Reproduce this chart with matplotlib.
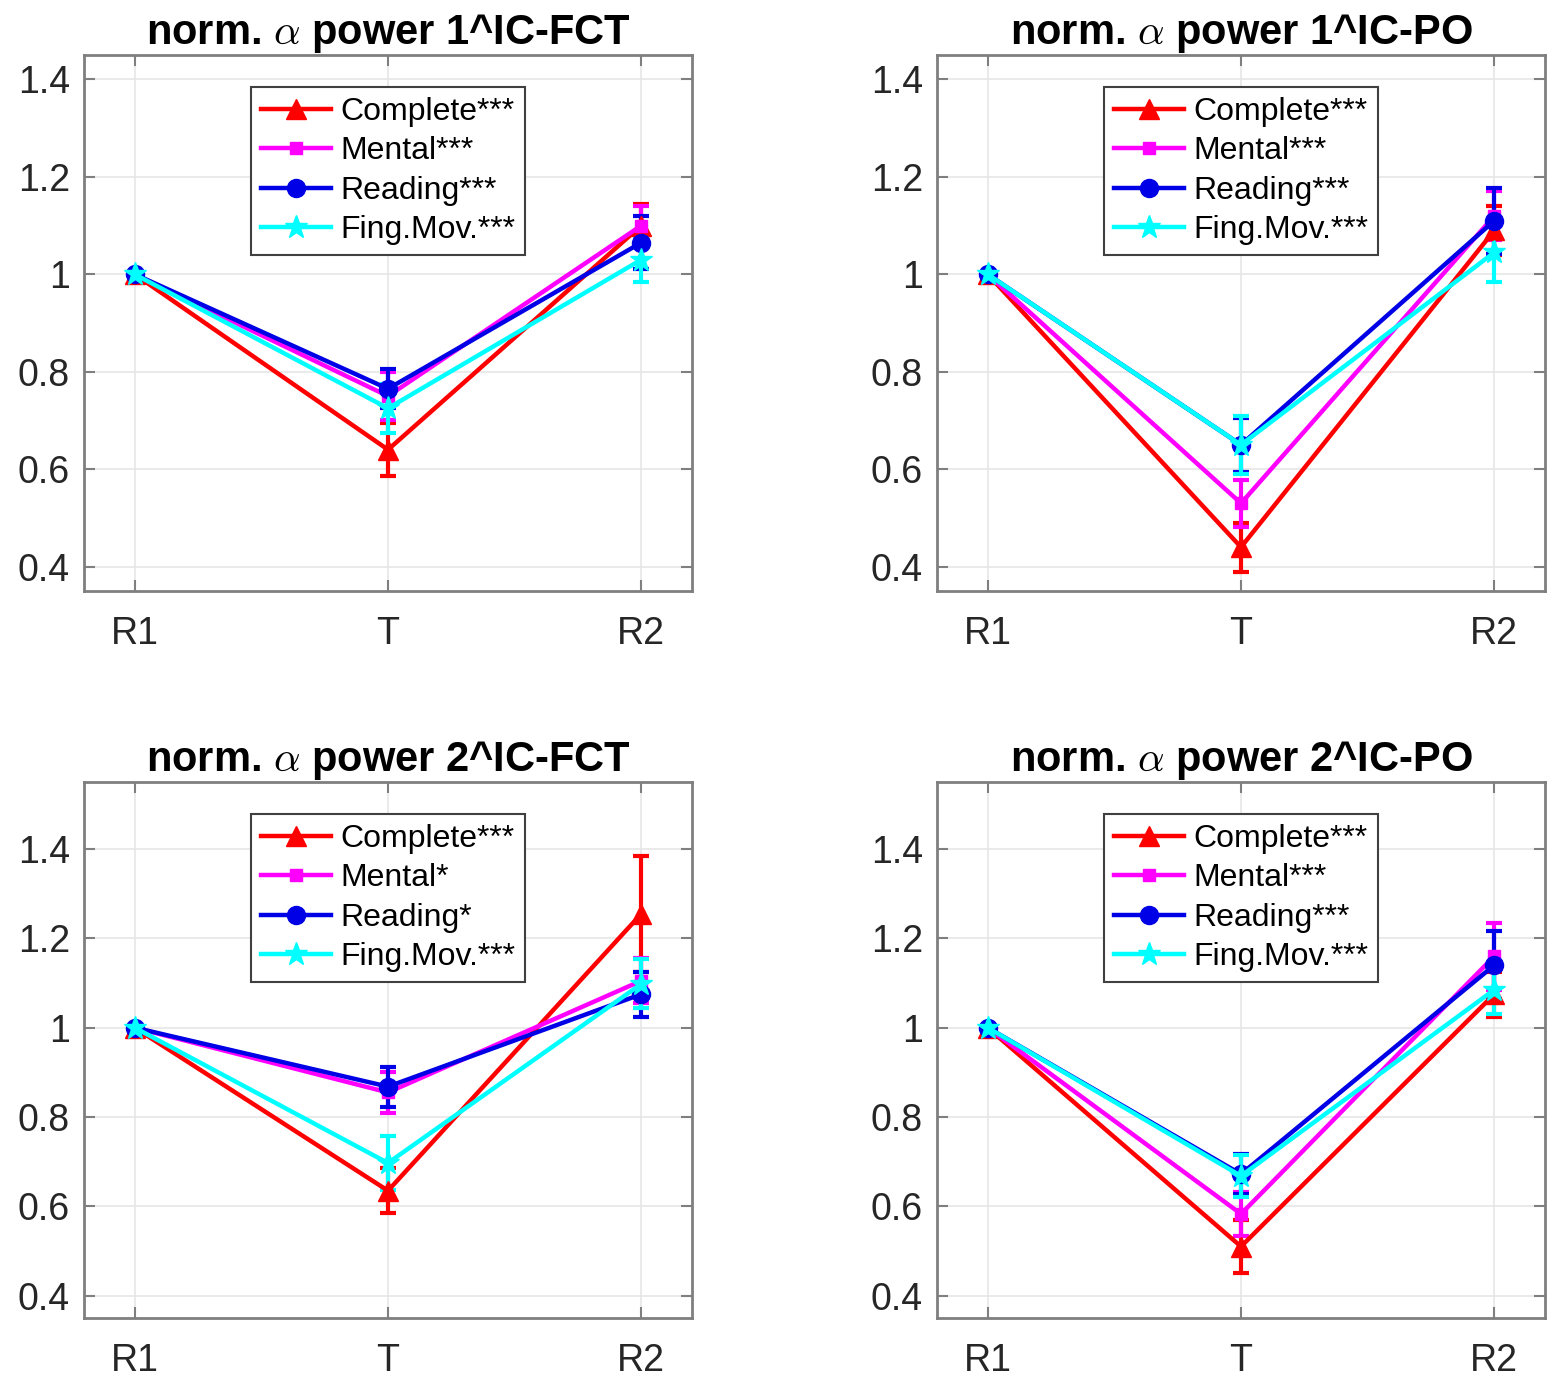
import numpy as np
import matplotlib
matplotlib.use('Agg')
import matplotlib.pyplot as plt

plt.rcParams['font.family'] = ['Liberation Sans', 'DejaVu Sans']
plt.rcParams['mathtext.fontset'] = 'cm'

# conditions on the x axis
conds = ['R1', 'T', 'R2']
groups = ['Complete', 'Mental', 'Reading', 'Fing.Mov.']

titles = [r'norm. $\alpha$ power 1^IC-FCT', r'norm. $\alpha$ power 1^IC-PO',
          r'norm. $\alpha$ power 2^IC-FCT', r'norm. $\alpha$ power 2^IC-PO']

# significance stars for each panel, per group
stars = [['***', '***', '***', '***'],
         ['***', '***', '***', '***'],
         ['***', '*', '*', '***'],
         ['***', '***', '***', '***']]

# mean values (R1, T, R2) and error bars
fct1_mean = [[1, 0.64, 1.10], [1, 0.75, 1.10], [1, 0.765, 1.065], [1, 0.725, 1.03]]
fct1_err = [[0, 0.055, 0.045], [0, 0.05, 0.04], [0, 0.04, 0.055], [0, 0.05, 0.045]]

po1_mean = [[1, 0.44, 1.09], [1, 0.53, 1.12], [1, 0.65, 1.11], [1, 0.65, 1.045]]
po1_err = [[0, 0.05, 0.05], [0, 0.048, 0.05], [0, 0.055, 0.068], [0, 0.06, 0.06]]

fct2_mean = [[1, 0.635, 1.255], [1, 0.855, 1.105], [1, 0.868, 1.075], [1, 0.697, 1.098]]
fct2_err = [[0, 0.05, 0.13], [0, 0.045, 0.05], [0, 0.045, 0.05], [0, 0.06, 0.055]]

po2_mean = [[1, 0.51, 1.075], [1, 0.583, 1.16], [1, 0.672, 1.14], [1, 0.668, 1.085]]
po2_err = [[0, 0.06, 0.05], [0, 0.05, 0.075], [0, 0.045, 0.076], [0, 0.048, 0.055]]

means = [fct1_mean, po1_mean, fct2_mean, po2_mean]
errs = [fct1_err, po1_err, fct2_err, po2_err]
ylims = [(0.35, 1.45), (0.35, 1.45), (0.35, 1.55), (0.35, 1.55)]

colors = ['#ff0000', '#ff00ff', '#0000e6', '#00ffff']
markers = ['^', 's', 'o', '*']
msizes = [14, 9, 13, 17]

W, H = 1564, 1384
fig = plt.figure(figsize=(W / 100, H / 100), dpi=100)
positions = [(84, 55, 692, 591), (937, 55, 1545, 591),
             (84, 782, 692, 1318), (937, 782, 1545, 1318)]

x = np.arange(1, 4)
for k in range(4):
    l, t, r, b = positions[k]
    ax = fig.add_axes([l / W, 1 - b / H, (r - l) / W, (b - t) / H])
    handles = []
    labels = []
    for g in range(4):
        c = ax.errorbar(x, means[k][g], yerr=errs[k][g], color=colors[g],
                        marker=markers[g], ms=msizes[g], lw=3.2, elinewidth=3,
                        capsize=6, capthick=3)
        handles.append(c[0])
        labels.append(groups[g] + stars[k][g])
    ax.set_xlim(0.8, 3.2)
    ax.set_ylim(*ylims[k])
    ax.set_xticks(x)
    ax.set_xticklabels(conds)
    ax.set_yticks([0.4, 0.6, 0.8, 1.0, 1.2, 1.4])
    ax.set_yticklabels(['0.4', '0.6', '0.8', '1', '1.2', '1.4'])
    ax.grid(True, color='#e6e6e6', lw=1.2)
    ax.set_axisbelow(True)
    ax.tick_params(direction='in', length=8, width=1.5, top=True, right=True,
                   labelsize=27, colors='#7f7f7f', labelcolor='#262626')
    ax.tick_params(axis='x', pad=18)
    ax.tick_params(axis='y', pad=10)
    for s in ax.spines.values():
        s.set_color('#7f7f7f')
        s.set_linewidth(2)
    ax.set_title(titles[k], fontsize=30, fontweight='bold', pad=8)
    leg = ax.legend(handles, labels, loc='upper center', bbox_to_anchor=(0.5, 0.94),
                    fontsize=23, fancybox=False, framealpha=1, edgecolor='#404040',
                    handlelength=2.2, handletextpad=0.3, labelspacing=0.3,
                    borderpad=0.3, borderaxespad=0)
    leg.get_frame().set_linewidth(1.5)

fig.savefig('out.png', dpi=100)
